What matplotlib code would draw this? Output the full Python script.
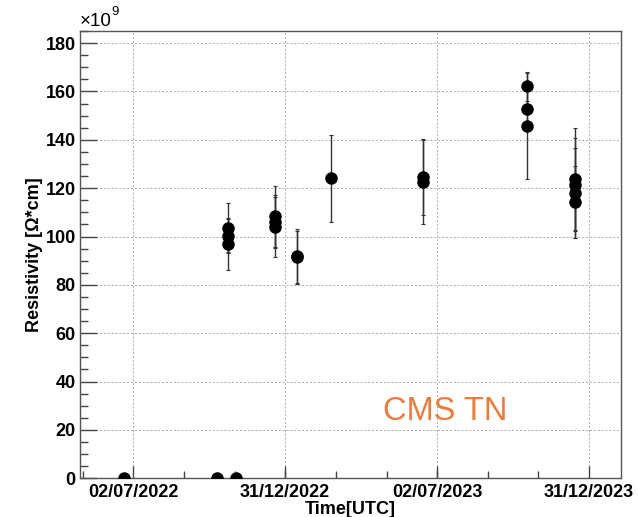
import matplotlib
matplotlib.use("Agg")
import matplotlib.pyplot as plt
import matplotlib.dates as mdates
import numpy as np

plt.rcParams['font.family'] = ['Liberation Sans', 'DejaVu Sans']

# Measurement dates and resistivity (units of 1e9 Ohm*cm) with uncertainties
dates = ["2022-06-21", "2022-10-10", "2022-11-02",
         "2022-10-24", "2022-10-24", "2022-10-24",
         "2022-12-19", "2022-12-19", "2022-12-19",
         "2023-01-14", "2023-01-14",
         "2023-02-24",
         "2023-06-15", "2023-06-15",
         "2023-10-17", "2023-10-17", "2023-10-17",
         "2023-12-14", "2023-12-14", "2023-12-14", "2023-12-14"]
resistivity = [0.0, 0.0, 0.0,
               103.6, 100.2, 97.0,
               108.3, 106.2, 104.1,
               91.4, 92.0,
               124.1,
               124.6, 122.5,
               162.2, 152.7, 145.8,
               123.8, 121.4, 117.9, 114.2]
errors = [0.0, 0.0, 0.0,
          10.2, 7.1, 10.8,
          12.6, 10.8, 12.4,
          11.0, 11.3,
          18.0,
          15.6, 17.5,
          6.0, 8.0, 21.9,
          21.0, 19.3, 18.6, 14.9]

major_dates = ["2022-07-02", "2022-12-31", "2023-07-02", "2023-12-31"]
major_labels = ["02/07/2022", "31/12/2022", "02/07/2023", "31/12/2023"]
x_range = ["2022-04-29", "2024-02-07"]

x = mdates.datestr2num(dates)
majors = mdates.datestr2num(major_dates)
step = (majors[-1] - majors[0]) / (len(majors) - 1) / 3.0
minors = np.arange(majors[0] - 3 * step, majors[-1] + 3 * step, step)

fig = plt.figure(figsize=(6.38, 5.17), dpi=100)
ax = fig.add_axes([0.1254, 0.0749, 0.8475, 0.8651])

ax.errorbar(x, resistivity, yerr=errors, fmt='none', ecolor='#333333',
            elinewidth=1.0, capsize=1.5, capthick=0.8, zorder=3)
ax.plot(x, resistivity, 'o', color='black', markersize=8, zorder=4)

xlim = mdates.datestr2num(x_range)
ax.set_xlim(xlim[0], xlim[1])
ax.set_ylim(0, 185)

ax.set_xticks(majors)
ax.set_xticklabels(major_labels)
ax.set_xticks([m for m in minors if xlim[0] < m < xlim[1]], minor=True)
ax.set_yticks(np.arange(0, 181, 20))
ax.set_yticks(np.arange(0, 186, 5), minor=True)

ax.tick_params(axis='both', which='both', direction='in', top=False, right=False,
               color='#444444')
ax.tick_params(axis='y', which='major', length=12, width=1.0, pad=3, labelsize=13)
ax.tick_params(axis='y', which='minor', length=6, width=1.0)
ax.tick_params(axis='x', which='major', length=9, width=1.0, pad=4, labelsize=13)
ax.tick_params(axis='x', which='minor', length=5, width=1.0)
for lab in ax.get_xticklabels() + ax.get_yticklabels():
    lab.set_fontweight('bold')

ax.grid(True, which='major', color='#aaaaaa', linestyle=(0, (2, 2)), linewidth=0.7)
ax.set_axisbelow(True)
for sp in ax.spines.values():
    sp.set_color('#555555')
    sp.set_linewidth(1.0)

ax.set_ylabel('Resistivity [Ω*cm]', fontsize=13, fontweight='bold', labelpad=2)
ax.set_xlabel('Time[UTC]', fontsize=13, fontweight='bold', labelpad=0)

ax.text(0.0, 1.002, '×10', transform=ax.transAxes, fontsize=13.5,
        ha='left', va='bottom')
ax.text(0.058, 1.030, '9', transform=ax.transAxes, fontsize=9.5,
        ha='left', va='bottom')

ax.text(0.675, 0.150, 'CMS TN', transform=ax.transAxes, fontsize=23.5,
        color='#EE7A3C', ha='center', va='center')

fig.savefig('out.png', dpi=100)
